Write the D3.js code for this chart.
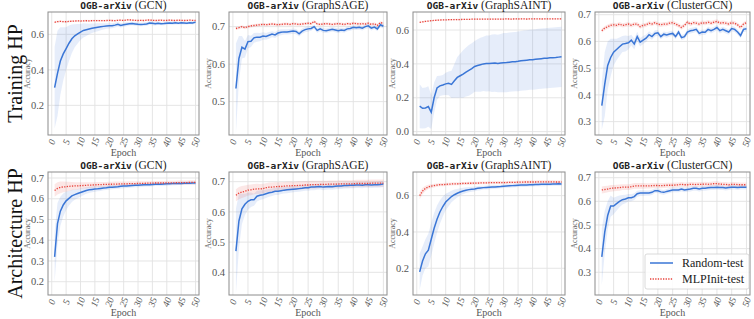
<!DOCTYPE html>
<meta charset="utf-8">
<head>
<script src="https://d3js.org/d3.v7.min.js"></script>
<style>
  body { margin: 0; background: #fff; }
  text { font-family: "Liberation Serif", "DejaVu Serif", serif; }
</style>
</head>
<body>
<svg id="chart" width="754" height="319"></svg>
<script>

// ---- data ----
var epochs = d3.range(1, 51);
var xTicks = [0, 5, 10, 15, 20, 25, 30, 35, 40, 45, 50];
var panelTitles = ["GCN", "GraphSAGE", "GraphSAINT", "ClusterGCN"];
var rowLabels = ["Training HP", "Architecture HP"];
var seriesNames = ["Random-test", "MLPInit-test"];

// Training HP
var trainGcnRand = [0.300,0.380,0.450,0.490,0.520,0.550,0.575,0.592,0.603,0.613,0.622,0.626,0.630,0.634,0.637,0.640,0.643,0.645,0.647,0.648,0.649,0.652,0.657,0.650,0.654,0.657,0.660,0.661,0.659,0.657,0.656,0.657,0.659,0.664,0.662,0.660,0.663,0.660,0.661,0.663,0.664,0.663,0.665,0.663,0.665,0.664,0.663,0.666,0.664,0.669];
var trainGcnRandErr = [0.230,0.240,0.190,0.150,0.120,0.100,0.080,0.065,0.055,0.045,0.040,0.035,0.030,0.027,0.024,0.022,0.020,0.018,0.016,0.015,0.014,0.013,0.012,0.012,0.011,0.011,0.010,0.010,0.010,0.010,0.010,0.010,0.010,0.010,0.010,0.010,0.009,0.009,0.009,0.009,0.009,0.009,0.009,0.008,0.008,0.008,0.008,0.008,0.008,0.008];
var trainGcnMlp = [0.668,0.672,0.673,0.672,0.671,0.673,0.674,0.675,0.676,0.675,0.676,0.677,0.676,0.677,0.678,0.677,0.678,0.677,0.678,0.679,0.678,0.677,0.679,0.680,0.678,0.681,0.682,0.680,0.679,0.678,0.679,0.678,0.680,0.681,0.679,0.678,0.679,0.680,0.678,0.679,0.680,0.679,0.678,0.680,0.679,0.678,0.679,0.680,0.679,0.678];
var trainGcnMlpErr = [0.006,0.006,0.005,0.005,0.005,0.005,0.005,0.005,0.005,0.005,0.005,0.005,0.005,0.005,0.005,0.005,0.005,0.005,0.005,0.005,0.005,0.005,0.005,0.005,0.005,0.005,0.005,0.005,0.005,0.005,0.005,0.005,0.005,0.005,0.005,0.005,0.005,0.005,0.005,0.005,0.005,0.005,0.005,0.005,0.005,0.005,0.005,0.005,0.005,0.005];

var trainSageRand = [0.535,0.615,0.645,0.640,0.660,0.661,0.670,0.672,0.672,0.675,0.674,0.677,0.680,0.678,0.683,0.685,0.686,0.686,0.687,0.688,0.687,0.681,0.688,0.692,0.694,0.695,0.700,0.690,0.694,0.690,0.689,0.691,0.693,0.691,0.689,0.691,0.690,0.694,0.695,0.698,0.697,0.698,0.696,0.700,0.702,0.696,0.699,0.694,0.705,0.701];
var trainSageRandErr = [0.120,0.060,0.030,0.022,0.018,0.015,0.013,0.012,0.011,0.010,0.009,0.009,0.008,0.008,0.008,0.008,0.007,0.007,0.007,0.007,0.007,0.007,0.007,0.007,0.007,0.006,0.006,0.006,0.006,0.006,0.006,0.006,0.006,0.006,0.006,0.006,0.006,0.006,0.006,0.006,0.006,0.006,0.006,0.006,0.006,0.006,0.006,0.006,0.006,0.006];
var trainSageMlp = [0.695,0.697,0.700,0.697,0.700,0.702,0.703,0.704,0.705,0.706,0.705,0.706,0.707,0.706,0.705,0.706,0.707,0.707,0.706,0.708,0.707,0.706,0.707,0.708,0.709,0.708,0.714,0.707,0.706,0.707,0.708,0.707,0.706,0.707,0.708,0.707,0.706,0.708,0.707,0.709,0.708,0.707,0.708,0.707,0.709,0.706,0.708,0.703,0.711,0.708];
var trainSageMlpErr = [0.004,0.004,0.004,0.004,0.004,0.004,0.004,0.004,0.004,0.004,0.004,0.004,0.004,0.004,0.004,0.004,0.004,0.004,0.004,0.004,0.004,0.004,0.004,0.004,0.004,0.004,0.004,0.004,0.004,0.004,0.004,0.004,0.004,0.004,0.004,0.004,0.004,0.004,0.004,0.004,0.004,0.004,0.004,0.004,0.004,0.004,0.004,0.004,0.004,0.004];

var trainSaintRand = [0.150,0.138,0.140,0.148,0.115,0.200,0.258,0.270,0.275,0.282,0.285,0.279,0.300,0.320,0.330,0.340,0.352,0.362,0.372,0.385,0.390,0.395,0.400,0.402,0.403,0.404,0.405,0.402,0.405,0.407,0.408,0.410,0.412,0.413,0.415,0.418,0.420,0.422,0.424,0.425,0.427,0.429,0.431,0.433,0.434,0.436,0.437,0.438,0.440,0.442];
var trainSaintRandErr = [0.130,0.120,0.120,0.120,0.100,0.090,0.070,0.060,0.060,0.065,0.070,0.080,0.100,0.120,0.130,0.140,0.145,0.150,0.150,0.150,0.155,0.160,0.160,0.165,0.165,0.170,0.170,0.170,0.172,0.175,0.175,0.175,0.175,0.175,0.176,0.176,0.177,0.177,0.177,0.178,0.178,0.178,0.178,0.178,0.178,0.178,0.178,0.178,0.178,0.178];
var trainSaintMlp = [0.645,0.648,0.651,0.653,0.655,0.657,0.658,0.659,0.660,0.660,0.661,0.661,0.662,0.662,0.662,0.663,0.663,0.663,0.664,0.664,0.664,0.664,0.665,0.665,0.664,0.665,0.665,0.665,0.665,0.665,0.666,0.665,0.665,0.666,0.665,0.666,0.666,0.665,0.666,0.666,0.666,0.666,0.665,0.666,0.666,0.666,0.666,0.666,0.666,0.666];
var trainSaintMlpErr = [0.004,0.004,0.004,0.004,0.004,0.004,0.004,0.004,0.004,0.004,0.004,0.004,0.004,0.004,0.004,0.004,0.004,0.004,0.004,0.004,0.004,0.004,0.004,0.004,0.004,0.004,0.004,0.004,0.004,0.004,0.004,0.004,0.004,0.004,0.004,0.004,0.004,0.004,0.004,0.004,0.004,0.004,0.004,0.004,0.004,0.004,0.004,0.004,0.004,0.004];

var trainClusterRand = [0.360,0.440,0.510,0.540,0.560,0.570,0.580,0.590,0.592,0.595,0.605,0.590,0.618,0.597,0.605,0.612,0.625,0.618,0.630,0.632,0.618,0.627,0.624,0.628,0.630,0.618,0.635,0.614,0.618,0.635,0.640,0.642,0.645,0.630,0.635,0.634,0.645,0.640,0.645,0.652,0.640,0.645,0.640,0.635,0.648,0.645,0.635,0.622,0.645,0.647];
var trainClusterRandErr = [0.090,0.120,0.090,0.070,0.050,0.040,0.035,0.030,0.030,0.025,0.020,0.020,0.018,0.016,0.015,0.014,0.013,0.012,0.012,0.011,0.010,0.010,0.010,0.010,0.010,0.010,0.010,0.010,0.010,0.010,0.010,0.010,0.010,0.010,0.010,0.010,0.010,0.010,0.010,0.010,0.010,0.010,0.010,0.010,0.010,0.010,0.010,0.010,0.010,0.010];
var trainClusterMlp = [0.640,0.650,0.655,0.660,0.662,0.660,0.665,0.660,0.662,0.665,0.660,0.665,0.665,0.655,0.660,0.662,0.668,0.665,0.670,0.665,0.662,0.665,0.665,0.668,0.670,0.665,0.660,0.652,0.660,0.672,0.665,0.670,0.668,0.665,0.670,0.668,0.672,0.668,0.672,0.675,0.668,0.670,0.668,0.665,0.670,0.668,0.662,0.652,0.665,0.670];
var trainClusterMlpErr = [0.008,0.008,0.008,0.008,0.008,0.008,0.008,0.008,0.008,0.008,0.008,0.008,0.008,0.008,0.008,0.008,0.008,0.008,0.008,0.008,0.008,0.008,0.008,0.008,0.008,0.008,0.008,0.008,0.008,0.008,0.008,0.008,0.008,0.008,0.008,0.008,0.008,0.008,0.008,0.008,0.008,0.008,0.008,0.008,0.008,0.008,0.008,0.008,0.008,0.008];

// Architecture HP
var archGcnRand = [0.320,0.480,0.540,0.570,0.590,0.602,0.614,0.620,0.625,0.630,0.635,0.640,0.643,0.645,0.647,0.648,0.650,0.652,0.653,0.655,0.656,0.657,0.658,0.660,0.661,0.662,0.663,0.664,0.665,0.665,0.666,0.667,0.668,0.668,0.669,0.670,0.670,0.670,0.671,0.672,0.672,0.673,0.673,0.674,0.674,0.675,0.675,0.675,0.676,0.676];
var archGcnRandErr = [0.120,0.100,0.070,0.055,0.045,0.035,0.030,0.025,0.022,0.020,0.018,0.016,0.015,0.014,0.013,0.012,0.012,0.011,0.011,0.010,0.010,0.010,0.010,0.010,0.010,0.010,0.010,0.010,0.010,0.010,0.009,0.009,0.009,0.009,0.009,0.009,0.009,0.009,0.009,0.009,0.008,0.008,0.008,0.008,0.008,0.008,0.008,0.008,0.008,0.008];
var archGcnMlp = [0.640,0.650,0.655,0.657,0.658,0.660,0.661,0.662,0.662,0.663,0.664,0.665,0.666,0.666,0.667,0.668,0.668,0.669,0.669,0.670,0.670,0.671,0.671,0.672,0.672,0.672,0.673,0.673,0.673,0.674,0.674,0.674,0.675,0.675,0.675,0.676,0.676,0.676,0.676,0.677,0.677,0.677,0.677,0.678,0.678,0.678,0.678,0.679,0.679,0.679];
var archGcnMlpErr = [0.030,0.030,0.028,0.026,0.024,0.022,0.020,0.018,0.017,0.016,0.015,0.015,0.014,0.014,0.013,0.013,0.013,0.012,0.012,0.012,0.012,0.012,0.012,0.011,0.011,0.011,0.011,0.011,0.011,0.011,0.011,0.011,0.010,0.010,0.010,0.010,0.010,0.010,0.010,0.010,0.010,0.010,0.010,0.010,0.010,0.010,0.010,0.010,0.010,0.010];

var archSageRand = [0.470,0.570,0.610,0.625,0.635,0.640,0.640,0.652,0.655,0.657,0.660,0.663,0.665,0.668,0.668,0.670,0.672,0.673,0.674,0.675,0.676,0.677,0.678,0.680,0.680,0.682,0.682,0.683,0.684,0.682,0.683,0.684,0.683,0.685,0.686,0.686,0.687,0.687,0.688,0.688,0.689,0.689,0.688,0.690,0.690,0.689,0.690,0.690,0.691,0.692];
var archSageRandErr = [0.140,0.090,0.050,0.035,0.028,0.024,0.020,0.018,0.016,0.015,0.014,0.013,0.012,0.012,0.012,0.011,0.011,0.011,0.011,0.010,0.010,0.010,0.010,0.010,0.010,0.010,0.010,0.010,0.010,0.010,0.010,0.010,0.010,0.010,0.010,0.010,0.010,0.010,0.010,0.010,0.010,0.010,0.010,0.010,0.010,0.010,0.010,0.010,0.010,0.010];
var archSageMlp = [0.655,0.662,0.666,0.668,0.672,0.673,0.675,0.676,0.676,0.677,0.680,0.682,0.682,0.683,0.684,0.684,0.685,0.686,0.686,0.687,0.687,0.688,0.688,0.689,0.689,0.690,0.690,0.690,0.691,0.691,0.691,0.692,0.692,0.692,0.692,0.693,0.693,0.693,0.693,0.693,0.694,0.694,0.694,0.694,0.694,0.695,0.695,0.695,0.695,0.695];
var archSageMlpErr = [0.020,0.020,0.020,0.019,0.018,0.018,0.017,0.017,0.016,0.016,0.015,0.015,0.015,0.015,0.014,0.014,0.014,0.014,0.014,0.013,0.013,0.013,0.013,0.013,0.013,0.013,0.013,0.013,0.012,0.012,0.012,0.012,0.012,0.012,0.012,0.012,0.012,0.012,0.012,0.012,0.012,0.012,0.012,0.012,0.012,0.012,0.012,0.012,0.012,0.012];

var archSaintRand = [0.180,0.240,0.280,0.300,0.360,0.420,0.470,0.510,0.540,0.565,0.580,0.595,0.605,0.613,0.620,0.625,0.630,0.633,0.635,0.637,0.640,0.642,0.644,0.645,0.646,0.647,0.648,0.649,0.650,0.652,0.653,0.654,0.655,0.656,0.657,0.658,0.658,0.659,0.660,0.660,0.661,0.661,0.662,0.662,0.663,0.663,0.664,0.664,0.665,0.664];
var archSaintRandErr = [0.100,0.080,0.080,0.090,0.090,0.085,0.075,0.065,0.055,0.045,0.038,0.032,0.028,0.024,0.020,0.018,0.016,0.015,0.014,0.013,0.012,0.012,0.011,0.011,0.011,0.010,0.010,0.010,0.010,0.010,0.010,0.010,0.010,0.010,0.010,0.010,0.010,0.010,0.010,0.010,0.010,0.010,0.010,0.010,0.010,0.010,0.010,0.010,0.010,0.010];
var archSaintMlp = [0.600,0.625,0.640,0.648,0.652,0.655,0.658,0.660,0.660,0.662,0.663,0.664,0.665,0.665,0.666,0.667,0.667,0.668,0.668,0.669,0.669,0.670,0.670,0.670,0.671,0.671,0.671,0.672,0.672,0.672,0.672,0.673,0.673,0.673,0.674,0.674,0.675,0.675,0.675,0.675,0.675,0.676,0.676,0.676,0.676,0.676,0.676,0.675,0.675,0.675];
var archSaintMlpErr = [0.020,0.018,0.015,0.012,0.010,0.010,0.009,0.009,0.009,0.009,0.008,0.008,0.008,0.008,0.008,0.008,0.008,0.008,0.008,0.008,0.008,0.008,0.008,0.008,0.008,0.008,0.008,0.008,0.008,0.008,0.008,0.008,0.008,0.008,0.008,0.008,0.008,0.008,0.008,0.008,0.008,0.008,0.008,0.008,0.008,0.008,0.008,0.008,0.008,0.008];

var archClusterRand = [0.365,0.470,0.540,0.580,0.580,0.590,0.600,0.607,0.610,0.615,0.615,0.620,0.632,0.635,0.635,0.635,0.635,0.638,0.645,0.645,0.640,0.638,0.642,0.645,0.648,0.648,0.648,0.652,0.648,0.650,0.652,0.655,0.655,0.652,0.655,0.655,0.657,0.658,0.658,0.660,0.658,0.658,0.656,0.658,0.660,0.660,0.658,0.660,0.660,0.660];
var archClusterRandErr = [0.120,0.090,0.060,0.045,0.035,0.030,0.025,0.020,0.018,0.016,0.015,0.014,0.013,0.012,0.012,0.011,0.011,0.011,0.010,0.010,0.010,0.010,0.010,0.010,0.010,0.010,0.010,0.010,0.010,0.010,0.010,0.010,0.010,0.010,0.010,0.010,0.010,0.010,0.010,0.010,0.010,0.010,0.010,0.010,0.010,0.010,0.010,0.010,0.010,0.010];
var archClusterMlp = [0.648,0.650,0.652,0.655,0.656,0.657,0.658,0.660,0.660,0.660,0.662,0.665,0.665,0.665,0.665,0.665,0.665,0.666,0.667,0.667,0.666,0.667,0.668,0.668,0.668,0.669,0.670,0.672,0.670,0.670,0.672,0.672,0.671,0.672,0.672,0.673,0.672,0.673,0.675,0.675,0.673,0.672,0.672,0.670,0.672,0.672,0.671,0.670,0.670,0.670];
var archClusterMlpErr = [0.015,0.015,0.014,0.014,0.013,0.013,0.013,0.012,0.012,0.012,0.012,0.012,0.012,0.012,0.012,0.011,0.011,0.011,0.011,0.011,0.011,0.011,0.011,0.011,0.011,0.011,0.010,0.010,0.010,0.010,0.010,0.010,0.010,0.010,0.010,0.010,0.010,0.010,0.010,0.010,0.010,0.010,0.010,0.010,0.010,0.010,0.010,0.010,0.010,0.010];

// y axis ranges and ticks, one per panel (row-major)
var yDomains = [[0.033,0.726],[0.411,0.739],[-0.02,0.7065],[0.25,0.71],
                [0.136,0.729],[0.325,0.732],[0.053,0.73],[0.204,0.724]];
var yTicks = [[0.2,0.4,0.6],[0.5,0.6,0.7],[0.0,0.2,0.4,0.6],[0.3,0.4,0.5,0.6,0.7],
              [0.2,0.3,0.4,0.5,0.6,0.7],[0.4,0.5,0.6,0.7],[0.2,0.4,0.6],[0.3,0.4,0.5,0.6,0.7]];

var panelData = [
  [trainGcnRand, trainGcnRandErr, trainGcnMlp, trainGcnMlpErr],
  [trainSageRand, trainSageRandErr, trainSageMlp, trainSageMlpErr],
  [trainSaintRand, trainSaintRandErr, trainSaintMlp, trainSaintMlpErr],
  [trainClusterRand, trainClusterRandErr, trainClusterMlp, trainClusterMlpErr],
  [archGcnRand, archGcnRandErr, archGcnMlp, archGcnMlpErr],
  [archSageRand, archSageRandErr, archSageMlp, archSageMlpErr],
  [archSaintRand, archSaintRandErr, archSaintMlp, archSaintMlpErr],
  [archClusterRand, archClusterRandErr, archClusterMlp, archClusterMlpErr]
];

// ---- layout ----
var cols = [[48,199],[229,387],[413,565],[595,750]];
var rows = [[12,135],[172,295]];
var blue = "#3a76d6", red = "#e8423a";
var gridColor = "#e2e2e2", frameColor = "#8c8c8c", tickColor = "#555";

var svg = d3.select("#chart");
svg.append("rect").attr("width", 754).attr("height", 319).attr("fill", "#fff");

// row labels
rowLabels.forEach(function(lbl, r) {
  var cy = (rows[r][0] + rows[r][1]) / 2;
  svg.append("text")
    .attr("transform", "translate(22," + cy + ") rotate(-90)")
    .attr("text-anchor", "middle")
    .style("font-size", "20px")
    .attr("fill", "#111")
    .text(lbl);
});

panelData.forEach(function(pd, i) {
  var r = Math.floor(i / 4), c = i % 4;
  var x0 = cols[c][0], x1 = cols[c][1], y0 = rows[r][0], y1 = rows[r][1];

  var x = d3.scaleLinear().domain([-1.3, 51.2]).range([x0, x1]);
  var y = d3.scaleLinear().domain(yDomains[i]).range([y1, y0]);

  var g = svg.append("g");

  // grid
  g.selectAll(".vg").data(xTicks).enter().append("line")
    .attr("x1", function(d){ return x(d); }).attr("x2", function(d){ return x(d); })
    .attr("y1", y0).attr("y2", y1)
    .attr("stroke", gridColor).attr("stroke-width", 0.9);
  g.selectAll(".hg").data(yTicks[i]).enter().append("line")
    .attr("x1", x0).attr("x2", x1)
    .attr("y1", function(d){ return y(d); }).attr("y2", function(d){ return y(d); })
    .attr("stroke", gridColor).attr("stroke-width", 0.9);

  // bands + lines
  var series = [
    {mean: pd[0], err: pd[1], color: blue, dash: null, op: 0.13, w: 1.5},
    {mean: pd[2], err: pd[3], color: red, dash: "1.3,1.3", op: 0.13, w: 1.3}
  ];
  series.forEach(function(s) {
    var pts = epochs.map(function(e, k){ return {e: e, m: s.mean[k], d: s.err[k]}; });
    var area = d3.area()
      .x(function(d){ return x(d.e); })
      .y0(function(d){ return y(d.m - d.d); })
      .y1(function(d){ return y(d.m + d.d); });
    g.append("path").datum(pts).attr("d", area)
      .attr("fill", s.color).attr("fill-opacity", s.op);
  });
  series.forEach(function(s) {
    var pts = epochs.map(function(e, k){ return {e: e, m: s.mean[k]}; });
    var line = d3.line().x(function(d){ return x(d.e); }).y(function(d){ return y(d.m); });
    g.append("path").datum(pts).attr("d", line)
      .attr("fill", "none").attr("stroke", s.color).attr("stroke-width", s.w)
      .attr("stroke-dasharray", s.dash);
  });

  // frame
  g.append("rect").attr("x", x0).attr("y", y0).attr("width", x1 - x0).attr("height", y1 - y0)
    .attr("fill", "none").attr("stroke", frameColor).attr("stroke-width", 1);

  // y tick labels
  g.selectAll(".yl").data(yTicks[i]).enter().append("text")
    .attr("x", x0 - 4).attr("y", function(d){ return y(d); })
    .attr("dy", "0.35em").attr("text-anchor", "end")
    .style("font-size", "10.5px").attr("fill", tickColor)
    .text(d3.format(".1f"));

  // x tick labels (rotated)
  g.selectAll(".xl").data(xTicks).enter().append("text")
    .attr("transform", function(d){ return "translate(" + x(d) + "," + (y1 + 7) + ") rotate(-70)"; })
    .attr("dy", "0.35em").attr("text-anchor", "middle")
    .style("font-size", "9.5px").style("font-style", "italic").attr("fill", tickColor)
    .text(function(d){ return d; });

  // axis labels
  g.append("text").attr("x", (x0 + x1) / 2).attr("y", y1 + 21)
    .attr("text-anchor", "middle").style("font-size", "10px").attr("fill", tickColor)
    .text("Epoch");
  g.append("text")
    .attr("transform", "translate(" + (x0 - 18) + "," + ((y0 + y1) / 2) + ") rotate(-90)")
    .attr("text-anchor", "middle").style("font-size", "8px").attr("fill", "#666")
    .text("Accuracy");

  // title
  var t = g.append("text").attr("x", (x0 + x1) / 2).attr("y", y0 - 3)
    .attr("text-anchor", "middle").attr("fill", "#222");
  t.append("tspan").style("font-family", "'DejaVu Sans Mono', monospace")
    .style("font-size", "9.5px").style("font-weight", "bold").text("OGB-arXiv");
  t.append("tspan").style("font-size", "11.5px").text(" (" + panelTitles[c] + ")");
});

// legend in the last panel
var lg = svg.append("g").attr("transform", "translate(645,254)");
lg.append("rect").attr("width", 104).attr("height", 35).attr("rx", 2)
  .attr("fill", "#fff").attr("fill-opacity", 0.85)
  .attr("stroke", "#d0d0d0").attr("stroke-width", 0.8);
seriesNames.forEach(function(name, k) {
  var yy = 9 + k * 16;
  lg.append("line").attr("x1", 5).attr("x2", 28).attr("y1", yy).attr("y2", yy)
    .attr("stroke", k === 0 ? blue : red).attr("stroke-width", k === 0 ? 1.5 : 1.3)
    .attr("stroke-dasharray", k === 0 ? null : "1.3,1.3");
  lg.append("text").attr("x", 37).attr("y", yy).attr("dy", "0.35em")
    .style("font-size", "12px").attr("fill", "#222").text(name);
});

</script>
</body>
